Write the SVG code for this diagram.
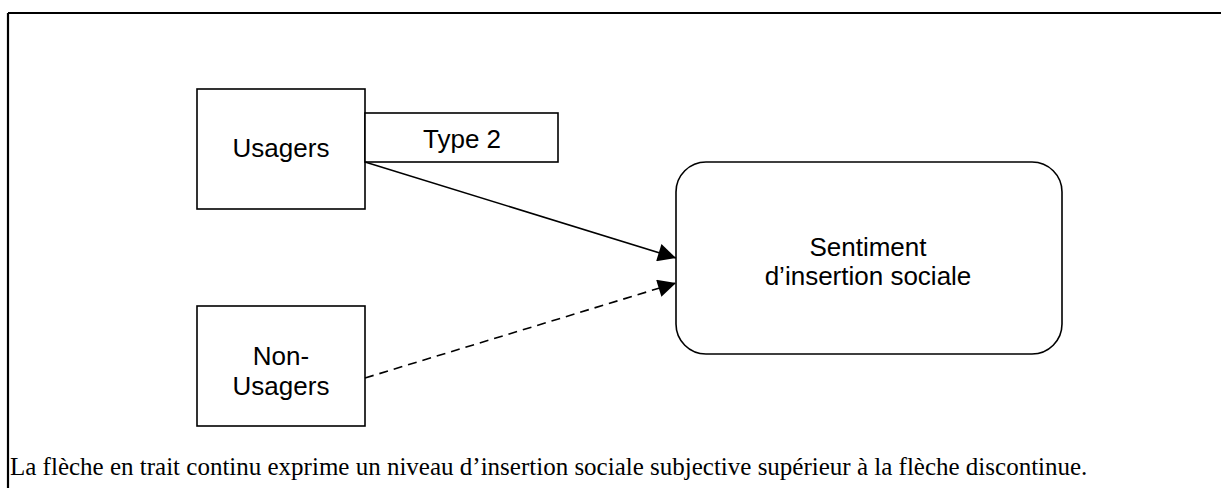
<svg xmlns="http://www.w3.org/2000/svg" width="1221" height="488" viewBox="0 0 1221 488">
<defs>
<style>
.box{fill:#fff;stroke:#000;stroke-width:1.6}
.lbl{font-family:"Liberation Sans",Arial,sans-serif;font-size:26px;fill:#000;text-anchor:middle}
.cap{font-family:"Liberation Serif","Times New Roman",serif;font-size:25px;fill:#000}
.conn{stroke:#000;stroke-width:1.6;fill:none}
</style>
<marker id="ah" viewBox="0 0 10 10" refX="10" refY="5" markerWidth="22" markerHeight="18" markerUnits="userSpaceOnUse" orient="auto">
<path d="M0,0 L10,5 L0,10 Z" fill="#000"/>
</marker>
</defs>
<rect width="1221" height="488" fill="#fff"/>
<g id="frame">
<path d="M8,13 H1221 M8,13 V488" stroke="#000" stroke-width="2.2" fill="none"/>
</g>
<g id="usagers">
<rect class="box" x="197" y="89" width="168" height="120"/>
<text class="lbl" x="281" y="157">Usagers</text>
</g>
<g id="type2">
<rect class="box" x="365" y="113" width="193" height="49"/>
<text class="lbl" x="462" y="148">Type 2</text>
</g>
<g id="non-usagers">
<rect class="box" x="197" y="306" width="168" height="120"/>
<text class="lbl" x="281" y="365">Non-</text>
<text class="lbl" x="281" y="395">Usagers</text>
</g>
<g id="sentiment">
<rect class="box" x="676" y="162" width="386" height="192" rx="30" ry="30"/>
<text class="lbl" x="868" y="256">Sentiment</text>
<text class="lbl" x="868" y="285">d’insertion sociale</text>
</g>
<g id="connectors">
<line class="conn" x1="365" y1="162" x2="676" y2="258" marker-end="url(#ah)"/>
<line class="conn" x1="365" y1="378" x2="676" y2="283" stroke-dasharray="9,6" marker-end="url(#ah)"/>
</g>
<g id="caption">
<text class="cap" x="10" y="475">La flèche en trait continu exprime un niveau d’insertion sociale subjective supérieur à la flèche discontinue.</text>
</g>
</svg>
